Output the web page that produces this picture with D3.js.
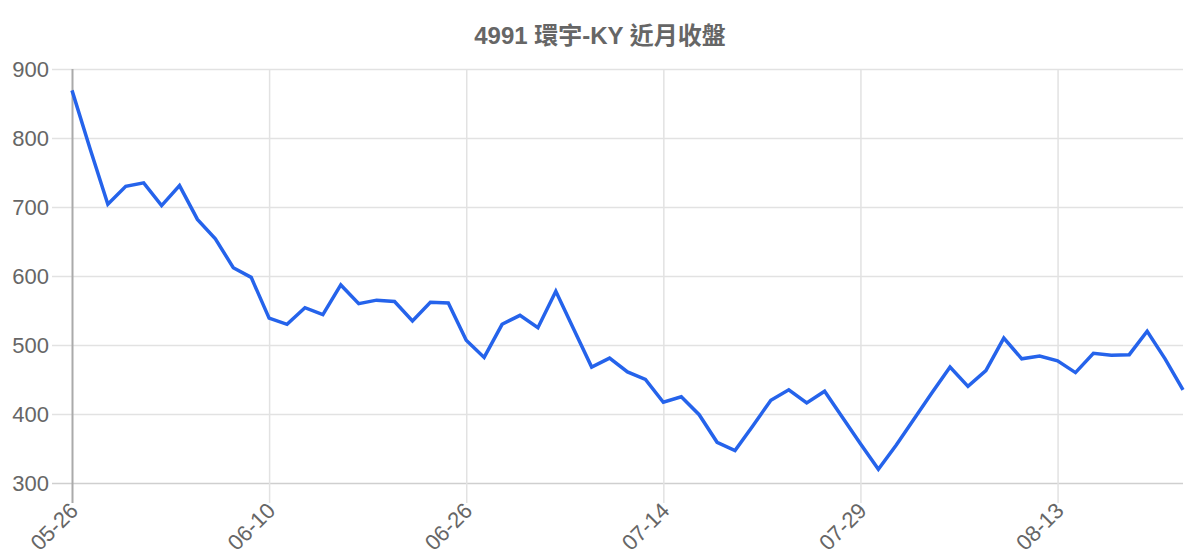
<!DOCTYPE html>
<html>
<head>
<meta charset="utf-8">
<script src="https://cdn.jsdelivr.net/npm/d3@7"></script>
<style>
    body { margin: 0; background: #fff; }
    svg text { font-family: "Liberation Sans", Arial, "Noto Sans CJK TC", sans-serif; fill: #666; }
</style>
</head>
<body>
<div id="chart"></div>
<script>

// closing prices, one per trading day
var dates = [
    "05-26", "05-27", "05-28", "05-31", "06-01", "06-02", "06-03", "06-04", "06-07", "06-08", "06-09",
    "06-10", "06-11", "06-14", "06-15", "06-16", "06-17", "06-18", "06-21", "06-22", "06-23", "06-24",
    "06-26", "06-29", "06-30", "07-01", "07-02", "07-05", "07-06", "07-07", "07-08", "07-09", "07-13",
    "07-14", "07-15", "07-16", "07-19", "07-20", "07-21", "07-22", "07-23", "07-26", "07-27", "07-28",
    "07-29", "07-30", "08-02", "08-03", "08-04", "08-05", "08-06", "08-09", "08-10", "08-11", "08-12",
    "08-13", "08-16", "08-17", "08-18", "08-19", "08-20", "08-23", "08-24"
];
var closes = [
    869, 785, 704, 730, 735, 702, 731, 682, 654, 612, 598,
    539, 530, 554, 544, 587, 560, 565, 563, 535, 562, 561,
    507, 482, 530, 543, 525, 578, 523, 468, 481, 461, 450,
    417, 425, 399, 359, 347, 383, 420, 435, 416, 433, 395,
    357, 320, 355, 393, 431, 468, 440, 463, 510, 480, 484,
    477, 460, 488, 485, 486, 520, 480, 435
];
var yTicks = [300, 400, 500, 600, 700, 800, 900];
var labelEvery = 11;
var title = "4991 環宇-KY 近月收盤";

var margin = {top: 69, right: 17, bottom: 77, left: 72};
var width = 1200 - margin.left - margin.right;
var height = 560 - margin.top - margin.bottom;
var tickLen = 20;

var svg = d3.select("#chart").append("svg")
    .attr("width", 1200)
    .attr("height", 560);

svg.append("text")
    .attr("x", 600)
    .attr("y", 44)
    .attr("text-anchor", "middle")
    .style("font-size", "24px")
    .style("font-weight", "bold")
    .text(title);

var g = svg.append("g")
    .attr("transform", "translate(" + margin.left + "," + margin.top + ")");

var x = d3.scalePoint()
    .domain(dates)
    .range([0, width]);

var y = d3.scaleLinear()
    .domain([300, 900])
    .range([height, 0]);

var tickDates = dates.filter(function(d, i) { return i % labelEvery === 0; });

// horizontal grid + y labels
var yAxis = d3.axisLeft(y)
    .tickValues(yTicks)
    .tickSize(-width - tickLen)
    .tickFormat(d3.format("d"));

g.append("g")
    .attr("transform", "translate(" + (-tickLen) + ",0)")
    .call(yAxis)
    .call(function(sel) {
        sel.select(".domain").remove();
        sel.selectAll("line")
            .attr("x1", 0)
            .attr("x2", width + tickLen)
            .attr("stroke", function(d) { return d === 300 ? "#cfcfcf" : "#e2e2e2"; })
            .attr("stroke-width", 1.5);
        sel.selectAll("text")
            .attr("x", -3)
            .attr("dy", "0.35em")
            .style("font-size", "22px");
    });

// vertical grid + x labels
var xAxis = d3.axisBottom(x)
    .tickValues(tickDates)
    .tickSize(-height)
    .tickSizeOuter(0);

g.append("g")
    .attr("transform", "translate(0," + height + ")")
    .call(xAxis)
    .call(function(sel) {
        sel.select(".domain").remove();
        sel.selectAll("line")
            .attr("y1", tickLen)
            .attr("y2", -height)
            .attr("stroke", function(d, i) { return i === 0 ? "#aaaaaa" : "#e2e2e2"; })
            .attr("stroke-width", function(d, i) { return i === 0 ? 2 : 1.5; });
        sel.selectAll("text")
            .attr("y", 0)
            .attr("dy", 0)
            .attr("text-anchor", "end")
            .attr("transform", "translate(7,29) rotate(-45)")
            .style("font-size", "22px");
    });

// price line
var line = d3.line()
    .x(function(d, i) { return x(dates[i]); })
    .y(function(d) { return y(d); });

g.append("path")
    .datum(closes)
    .attr("fill", "none")
    .attr("stroke", "#2563eb")
    .attr("stroke-width", 3.5)
    .attr("stroke-linejoin", "miter")
    .attr("d", line);

</script>
</body>
</html>
